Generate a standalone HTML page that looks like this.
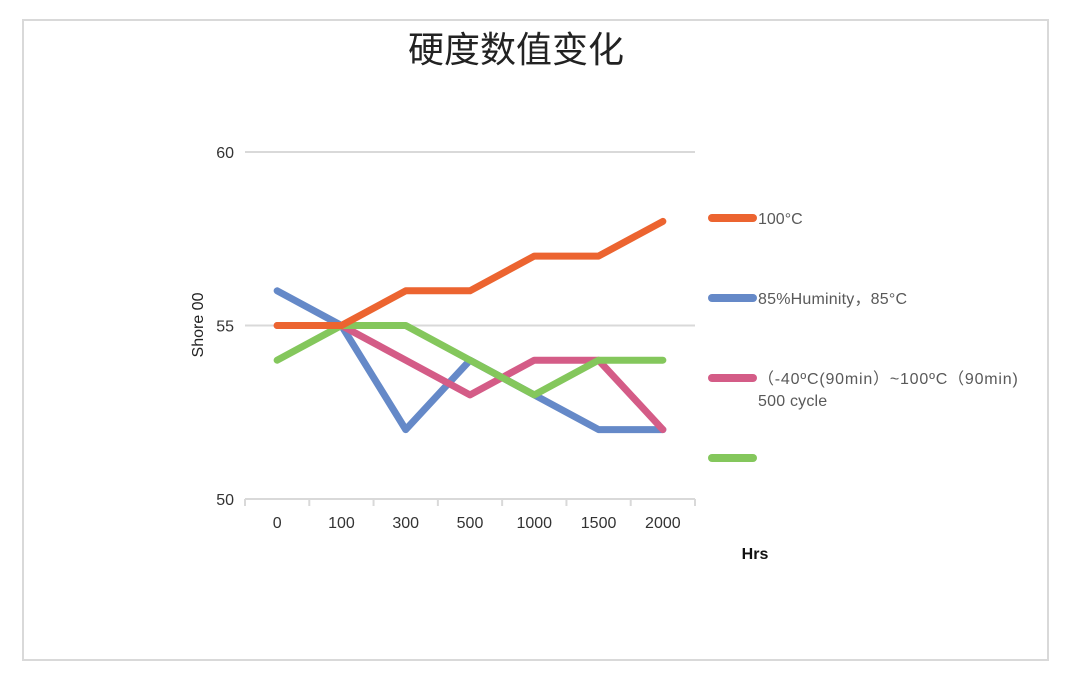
<!DOCTYPE html>
<html><head><meta charset="utf-8"><style>
body{margin:0;background:#fff;width:1071px;height:671px;overflow:hidden}
svg text{font-family:"Liberation Sans","Noto Sans CJK SC",sans-serif}
</style></head><body>
<svg width="1071" height="671">
<rect x="23" y="20" width="1025" height="640" fill="#fff" stroke="#d9d9d9" stroke-width="2"/>
<text x="516" y="62" font-size="36" text-anchor="middle" fill="#222">硬度数值变化</text>
<text transform="translate(203,325) rotate(-90)" font-size="16" text-anchor="middle" fill="#222">Shore 00</text>
<text x="755" y="559" font-size="16" font-weight="bold" text-anchor="middle" fill="#111">Hrs</text>
<g id="grid"></g><g id="axis"></g><g id="series"></g><g id="legend"></g>
</svg>
<script>
const categories=["0","100","300","500","1000","1500","2000"];
const yTicks=[50,55,60];
const s100=[55,55,56,56,57,57,58];
const sHum=[56,55,52,54,53,52,52];
const sCycle=[55,55,54,53,54,54,52];
const sGreen=[54,55,55,54,53,54,54];
const seriesNames=["100°C","85%Huminity，85°C","（-40ºC(90min）~100ºC（90min)","500 cycle",""];
const NS="http://www.w3.org/2000/svg";
const x0=245,x1=695,yTop=152,yBot=499,ymin=50,ymax=60;
const bw=(x1-x0)/categories.length;
const X=i=>x0+bw*(i+0.5);
const Y=v=>yBot-(v-ymin)/(ymax-ymin)*(yBot-yTop);
function mk(t,a,p){const e=document.createElementNS(NS,t);for(const k in a)e.setAttribute(k,a[k]);p.appendChild(e);return e;}
const grid=document.getElementById('grid'),axis=document.getElementById('axis'),ser=document.getElementById('series'),leg=document.getElementById('legend');
yTicks.forEach(v=>{
 const l=mk('line',{x1:x0,x2:x1,y1:Y(v),y2:Y(v),stroke:'#d9d9d9','stroke-width':2},grid);
 
 
 const t=mk('text',{x:234,y:Y(v)+6,'font-size':16,'text-anchor':'end',fill:'#333'},axis);t.textContent=v;
 
 
});
for(let i=0;i<=categories.length;i++){
 const tk=mk('line',{x1:x0+bw*i,x2:x0+bw*i,y1:yBot,y2:yBot+7,stroke:'#d9d9d9','stroke-width':2},axis);
 
 
}
categories.forEach((c,i)=>{
 const t=mk('text',{x:X(i),y:528,'font-size':16,'text-anchor':'middle',fill:'#333'},axis);t.textContent=c;
 
 
});
const all=[[s100,'#ec6430','series-100c'],[sHum,'#6589c8','series-humidity'],[sCycle,'#d45c87','series-thermal-cycle'],[sGreen,'#84c75c','series-green']];
const order=[1,2,3,0];
order.forEach(k=>{
 const [d,c,n]=all[k];
 const p=mk('polyline',{points:d.map((v,i)=>X(i)+','+Y(v)).join(' '),fill:'none',stroke:c,'stroke-width':7,'stroke-linejoin':'round','stroke-linecap':'round'},ser);
 
 
});
const ly=[218,298,378,458];
all.forEach(([d,c,n],k)=>{
 const l=mk('line',{x1:712,x2:753,y1:ly[k],y2:ly[k],stroke:c,'stroke-width':8,'stroke-linecap':'round'},leg);
 
 
});
[[seriesNames[0],758,224,0],[seriesNames[1],758,304,0.2],[seriesNames[2],758,384,0.8],[seriesNames[3],758,406,0.2]].forEach(([s,x,y,ls],k)=>{
 const t=mk('text',{x:x,y:y,'font-size':16,fill:'#595959','letter-spacing':ls},leg);t.textContent=s;
 
 
});
</script>
</body></html>
